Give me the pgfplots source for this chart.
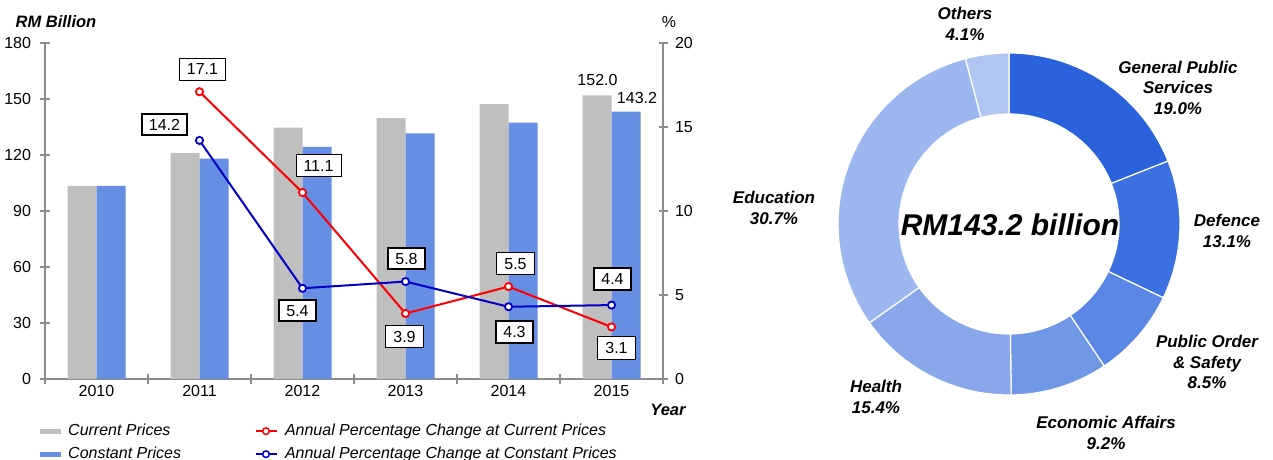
\documentclass[border=0pt]{standalone}
\usepackage{pgfplots}
\pgfplotsset{compat=1.18}
\usepackage{pgfplotstable}
\usepackage{fontspec}
\setmainfont{Liberation Sans}
\definecolor{barGray}{HTML}{BFBFBF}
\definecolor{barBlue}{HTML}{668EE3}
\definecolor{lnRed}{HTML}{FF0000}
\definecolor{lnBlue}{HTML}{0000C8}
\definecolor{axGray}{HTML}{8C8C8C}
\definecolor{cGPS}{HTML}{2A62DD}
\definecolor{cDef}{HTML}{3C6FE0}
\definecolor{cPOS}{HTML}{5A86E5}
\definecolor{cEA}{HTML}{7197E7}
\definecolor{cHea}{HTML}{89A8EC}
\definecolor{cEdu}{HTML}{9CB6EF}
\definecolor{cOth}{HTML}{B1C5F3}

\pgfplotstableread{
x cur con
0 103.4 103.4
1 121.1 118.0
2 134.6 124.4
3 139.7 131.6
4 147.3 137.3
5 152.0 143.2
}\barsdata

\pgfplotstableread{
x y
1 17.1
2 11.1
3 3.9
4 5.5
5 3.1
}\reddata

\pgfplotstableread{
x y
1 14.2
2 5.4
3 5.8
4 4.3
5 4.4
}\bluedata

\newcommand\slice[3]{\fill[#3, draw=white, line width=1.2bp] (axis cs:0,0) ++(#1:171bp) arc[start angle=#1, end angle=#2, radius=171bp] -- ++(#2:-61bp) arc[start angle=#2, end angle=#1, radius=110bp] -- cycle;}

\newcommand\tf{\fontsize{16bp}{19bp}\selectfont}
\newcommand\df{\fontsize{17bp}{20.5bp}\selectfont\bfseries\itshape}

\tikzset{
  rbox/.style={draw=black, line width=0.8bp, fill=white, text=black, inner xsep=7.5bp, inner ysep=5.5bp, text height=11.5bp, text depth=0bp, font=\tf},
  bbox/.style={draw=black, line width=2bp, fill=white, text=black, inner xsep=7bp, inner ysep=5bp, text height=11.5bp, text depth=0bp, font=\tf},
}

\begin{document}
\begin{tikzpicture}
\path[use as bounding box] (0,0) rectangle (1273bp,460bp);
\pgfmathsetmacro\aA{90}
\pgfmathsetmacro\aB{\aA-3.6*19.0}
\pgfmathsetmacro\aC{\aB-3.6*13.1}
\pgfmathsetmacro\aD{\aC-3.6*8.5}
\pgfmathsetmacro\aE{\aD-3.6*9.2}
\pgfmathsetmacro\aF{\aE-3.6*15.4}
\pgfmathsetmacro\aG{\aF-3.6*30.7}
\pgfmathsetmacro\aH{\aG-3.6*4.1}

% ---------- bars (left axis)
\begin{axis}[
  at={(45bp,81bp)}, anchor=south west,
  scale only axis, width=618bp, height=336bp,
  xmin=-0.5, xmax=5.5, ymin=0, ymax=180,
  axis x line*=bottom, axis y line*=left,
  axis line style={draw=axGray, line width=1.2bp, -},
  every tick/.style={draw=axGray, line width=1.2bp},
  tick align=center, major tick length=9bp,
  xtick={-0.5,0.5,...,5.5}, xticklabels={},
  extra x ticks={0,1,2,3,4,5},
  extra x tick labels={2010,2011,2012,2013,2014,2015},
  extra x tick style={major tick length=0pt, tick label style={yshift=-3bp}},
  ytick={0,30,...,180},
  yticklabel style={xshift=-6bp},
  /pgf/number format/assume math mode=true,
  tick label style={font=\tf, text=black},
  legend style={draw=none, fill=none, inner sep=0pt, at={(axis description cs:0,0)}, anchor=north west, xshift=-5.5bp, yshift=-44bp, font=\tf\itshape, nodes={inner xsep=3.5bp, inner ysep=0bp, text height=12bp, text depth=4bp}, row sep=7bp},
  legend cell align=left,
]
\addplot[ybar, bar width=29bp, bar shift=-14.5bp, fill=barGray, draw=none,
  legend image code/.code={\fill[barGray] (0bp,-2.5bp) rectangle (21bp,2.5bp); \path (25bp,0bp);}]
  table[x=x, y=cur] {\barsdata};
\addlegendentry{Current Prices}
\addplot[ybar, bar width=29bp, bar shift=14.5bp, fill=barBlue, draw=none,
  legend image code/.code={\fill[barBlue] (0bp,-2.5bp) rectangle (21bp,2.5bp); \path (25bp,0bp);}]
  table[x=x, y=con] {\barsdata};
\addlegendentry{Constant Prices}
\node[font=\tf] at (axis cs:5,152.0) [xshift=-14bp, yshift=15bp] {152.0};
\node[font=\tf] at (axis cs:5,143.2) [xshift=25.5bp, yshift=14bp] {143.2};
\end{axis}

% ---------- lines (right axis)
\begin{axis}[
  at={(45bp,81bp)}, anchor=south west,
  scale only axis, width=618bp, height=336bp,
  xmin=-0.5, xmax=5.5, ymin=0, ymax=20,
  axis x line=none, axis y line*=right,
  axis line style={draw=axGray, line width=1.2bp, -},
  every tick/.style={draw=axGray, line width=1.2bp},
  tick align=center, major tick length=9bp,
  ytick={0,5,...,20},
  yticklabel style={xshift=4bp},
  /pgf/number format/assume math mode=true,
  tick label style={font=\tf, text=black},
  legend style={draw=none, fill=none, inner sep=0pt, at={(axis description cs:0,0)}, anchor=north west, xshift=209.5bp, yshift=-44bp, font=\tf\itshape, nodes={inner xsep=3.5bp, inner ysep=0bp, text height=12bp, text depth=4bp}, row sep=7bp},
  legend cell align=left,
]
\addplot[lnRed, line width=2bp, mark=*, mark size=3.6bp,
  mark options={fill=white, draw=lnRed, line width=1.8bp},
  legend image code/.code={\draw[lnRed, line width=1.6bp] (0bp,0bp) -- (21bp,0bp); \draw[lnRed, line width=1.5bp, fill=white] (10.5bp,0bp) circle (3.3bp); \path (25bp,0bp);}]
  table[x=x, y=y] {\reddata};
\addlegendentry{Annual Percentage Change at Current Prices}
\addplot[lnBlue, line width=2bp, mark=*, mark size=3.6bp,
  mark options={fill=white, draw=lnBlue, line width=1.8bp},
  legend image code/.code={\draw[lnBlue, line width=1.6bp] (0bp,0bp) -- (21bp,0bp); \draw[lnBlue, line width=1.5bp, fill=white] (10.5bp,0bp) circle (3.3bp); \path (25bp,0bp);}]
  table[x=x, y=y] {\bluedata};
\addlegendentry{Annual Percentage Change at Constant Prices}
\node[rbox] at (axis cs:1,17.1) [xshift=3bp, yshift=22.5bp] {17.1};
\node[rbox] at (axis cs:2,11.1) [xshift=16bp, yshift=27bp] {11.1};
\node[rbox] at (axis cs:3,3.9) [xshift=-1bp, yshift=-23bp] {3.9};
\node[rbox] at (axis cs:4,5.5) [xshift=7bp, yshift=23bp] {5.5};
\node[rbox] at (axis cs:5,3.1) [xshift=5bp, yshift=-21bp] {3.1};
\node[bbox] at (axis cs:1,14.2) [xshift=-35bp, yshift=16bp] {14.2};
\node[bbox] at (axis cs:2,5.4) [xshift=-5bp, yshift=-22bp] {5.4};
\node[bbox] at (axis cs:3,5.8) [xshift=1bp, yshift=23bp] {5.8};
\node[bbox] at (axis cs:4,4.3) [xshift=6bp, yshift=-25bp] {4.3};
\node[bbox] at (axis cs:5,4.4) [xshift=1bp, yshift=26bp] {4.4};
\end{axis}

\node[font=\fontsize{16.5bp}{19bp}\selectfont\bfseries\itshape] at (56bp,438bp) {RM Billion};
\node[font=\tf] at (669bp,438bp) {\%};
\node[font=\fontsize{16.5bp}{19bp}\selectfont\bfseries\itshape] at (668bp,50bp) {Year};

% ---------- donut
\begin{axis}[
  at={(1009bp,236bp)}, anchor=center,
  scale only axis, width=342bp, height=342bp,
  xmin=-1, xmax=1, ymin=-1, ymax=1,
  hide axis, clip=false,
]
\slice{\aA}{\aB}{cGPS}
\slice{\aB}{\aC}{cDef}
\slice{\aC}{\aD}{cPOS}
\slice{\aD}{\aE}{cEA}
\slice{\aE}{\aF}{cHea}
\slice{\aF}{\aG}{cEdu}
\slice{\aG}{\aH}{cOth}
\end{axis}

\node[font=\fontsize{30bp}{34bp}\selectfont\bfseries\itshape] at (1010bp,235bp) {RM143.2 billion};
\node[font=\df, align=center] at (965bp,436bp) {Others\\4.1\%};
\node[font=\df, align=center] at (1178bp,372.5bp) {General Public\\Services\\19.0\%};
\node[font=\df, align=center] at (1227bp,229bp) {Defence\\13.1\%};
\node[font=\df, align=center] at (1207bp,98bp) {Public Order\\\& Safety\\8.5\%};
\node[font=\df, align=center] at (1106bp,27bp) {Economic Affairs\\9.2\%};
\node[font=\df, align=center] at (876bp,63bp) {Health\\15.4\%};
\node[font=\df, align=center] at (774bp,252bp) {Education\\30.7\%};
\end{tikzpicture}
\end{document}
